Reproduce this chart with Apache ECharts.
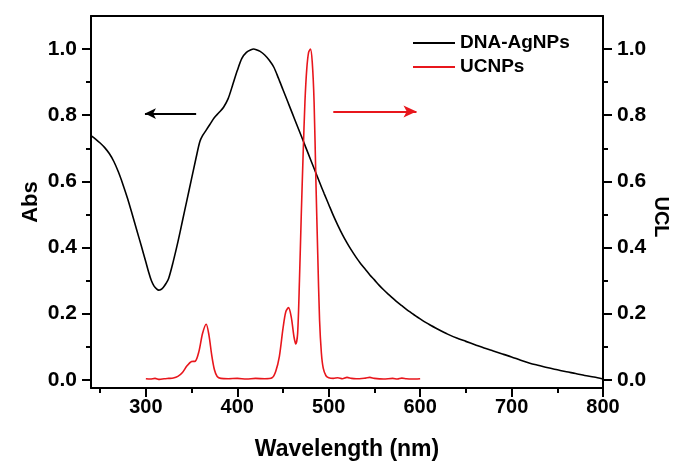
<!DOCTYPE html>
<html>
<head>
<meta charset="utf-8">
<script src="https://cdn.jsdelivr.net/npm/echarts@6/dist/echarts.min.js"></script>
<style>
html,body{margin:0;padding:0;background:#fff;}
#chart{width:676px;height:466px;}
</style>
</head>
<body>
<div id="chart"></div>
<script>
// ---- data ----
const absWavelength = [240,245,250,255,260,265,270,275,280,285,290,295,300,303,306,309,312,314,316,319,322,325,330,335,340,345,350,355,359,362,366,370,375,380,385,390,395,400,405,410,415,418,420,425,430,435,440,445,450,455,460,465,470,475,480,485,490,495,500,505,510,515,520,525,530,535,540,545,550,555,560,565,570,575,580,585,590,595,600,610,620,630,640,650,660,670,680,690,700,710,720,730,740,750,760,770,780,790,800];
const absValues = [0.738,0.728,0.716,0.702,0.684,0.660,0.628,0.590,0.548,0.501,0.453,0.405,0.356,0.326,0.300,0.283,0.274,0.271,0.272,0.279,0.291,0.307,0.358,0.416,0.480,0.544,0.608,0.672,0.720,0.738,0.755,0.772,0.793,0.808,0.824,0.850,0.892,0.935,0.972,0.990,0.998,1.000,0.999,0.993,0.982,0.966,0.945,0.912,0.877,0.842,0.807,0.772,0.737,0.702,0.667,0.632,0.597,0.563,0.530,0.497,0.467,0.439,0.414,0.391,0.370,0.351,0.334,0.317,0.302,0.286,0.272,0.259,0.247,0.235,0.224,0.213,0.203,0.193,0.184,0.167,0.152,0.138,0.126,0.116,0.106,0.096,0.087,0.078,0.069,0.059,0.050,0.043,0.036,0.030,0.024,0.019,0.013,0.008,0.002];

const ucnpWavelength = [300,305,310,315,320,325,330,335,340,345,350,354,358,362,366,369,372,375,378,382,390,400,410,420,430,438,442,446,450,453,456,459,462,464,466,468,470,472,474,476,478,480,482,484,486,488,490,492,494,497,500,505,510,515,520,525,530,540,545,550,560,570,575,580,585,590,600];
const ucnpValues = [0.003,0.002,0.004,0.001,0.003,0.004,0.005,0.010,0.022,0.042,0.055,0.056,0.085,0.140,0.168,0.135,0.075,0.030,0.010,0.004,0.003,0.004,0.002,0.004,0.003,0.006,0.025,0.070,0.155,0.205,0.218,0.190,0.130,0.108,0.140,0.300,0.500,0.680,0.840,0.940,0.990,1.000,0.960,0.840,0.600,0.380,0.180,0.080,0.035,0.012,0.006,0.004,0.006,0.003,0.007,0.004,0.003,0.005,0.007,0.004,0.002,0.004,0.002,0.005,0.003,0.002,0.003];

const xTickValues = [300,400,500,600,700,800];
const yTickValues = [0,0.2,0.4,0.6,0.8,1.0];
const absArrow = [[355,0.805],[299,0.805]];
const ucnpArrow = [[505,0.811],[596,0.811]];

const seriesNames = ['DNA-AgNPs','UCNPs'];
const seriesColors = ['#000000','#e8161c'];

// ---- build chart ----
const FONT = "'Liberation Sans', Arial, sans-serif";
const zip = (xs, ys) => xs.map((x, i) => [x, ys[i]]);

function yAxisCfg(pos) {
  return {
    type: 'value', position: pos, min: -0.025, max: 1.1, splitNumber: 5,
    axisLine: { show: true, onZero: false, lineStyle: { color: '#000', width: 2 } },
    axisTick: { show: true, inside: false, length: 9, customValues: yTickValues, lineStyle: { color: '#000', width: 2 } },
    minorTick: { show: true, splitNumber: 2, length: 5, lineStyle: { color: '#000', width: 2 } },
    axisLabel: { customValues: yTickValues, margin: 14, color: '#000', fontFamily: FONT, fontWeight: 'bold', fontSize: 21,
      formatter: v => v.toFixed(1) },
    splitLine: { show: false }
  };
}

const leftY = yAxisCfg('left');
leftY.name = 'Abs';
leftY.nameLocation = 'middle';
leftY.nameRotate = 90;
leftY.nameGap = 49;
leftY.nameMoveOverlap = false;
leftY.nameTextStyle = { color: '#000', fontFamily: FONT, fontWeight: 'bold', fontSize: 22 };

const rightY = yAxisCfg('right');

const chart = echarts.init(document.getElementById('chart'), null, { renderer: 'canvas' });
chart.setOption({
  animation: false,
  backgroundColor: '#fff',
  grid: { left: 91, right: 73, top: 16, bottom: 78, containLabel: false },
  legend: {
    orient: 'vertical', left: 408, top: 27, itemWidth: 42, itemHeight: 2, itemGap: 2,
    icon: 'rect',
    data: seriesNames,
    textStyle: { color: '#000', fontFamily: FONT, fontWeight: 'bold', fontSize: 19, lineHeight: 22 }
  },
  xAxis: [
    {
      type: 'value', position: 'bottom', min: 240, max: 800, splitNumber: 5,
      name: 'Wavelength (nm)', nameLocation: 'middle', nameGap: 50,
      nameTextStyle: { color: '#000', fontFamily: FONT, fontWeight: 'bold', fontSize: 23 },
      axisLine: { show: true, onZero: false, lineStyle: { color: '#000', width: 2 } },
      axisTick: { show: true, length: 9, customValues: xTickValues, lineStyle: { color: '#000', width: 2 } },
      minorTick: { show: true, splitNumber: 2, length: 5, lineStyle: { color: '#000', width: 2 } },
      axisLabel: { customValues: xTickValues, margin: 9, color: '#000', fontFamily: FONT, fontWeight: 'bold', fontSize: 20 },
      splitLine: { show: false }
    },
    {
      type: 'value', position: 'top', min: 240, max: 800,
      axisLine: { show: true, onZero: false, lineStyle: { color: '#000', width: 2 } },
      axisTick: { show: false }, axisLabel: { show: false }, splitLine: { show: false }
    }
  ],
  yAxis: [leftY, rightY],
  graphic: [{
    type: 'text', x: 661, y: 217, rotation: -Math.PI / 2,
    style: { text: 'UCL', fill: '#000', font: 'bold 20px ' + FONT, textAlign: 'center', textVerticalAlign: 'middle' }
  }],
  series: [
    {
      name: seriesNames[0], type: 'line', xAxisIndex: 0, yAxisIndex: 0,
      data: zip(absWavelength, absValues), showSymbol: false, smooth: 0.3,
      lineStyle: { color: seriesColors[0], width: 1.6 }, itemStyle: { color: seriesColors[0] },
      markLine: {
        silent: true, symbol: ['none', 'arrow'], symbolSize: [8, 11], label: { show: false },
        lineStyle: { color: seriesColors[0], width: 1.8, type: 'solid' },
        data: [[{ coord: absArrow[0] }, { coord: absArrow[1] }]]
      }
    },
    {
      name: seriesNames[1], type: 'line', xAxisIndex: 0, yAxisIndex: 1,
      data: zip(ucnpWavelength, ucnpValues), showSymbol: false, smooth: 0.3,
      lineStyle: { color: seriesColors[1], width: 1.6 }, itemStyle: { color: seriesColors[1] },
      markLine: {
        silent: true, symbol: ['none', 'arrow'], symbolSize: [9, 13], label: { show: false },
        lineStyle: { color: seriesColors[1], width: 1.8, type: 'solid' },
        data: [[{ coord: ucnpArrow[0] }, { coord: ucnpArrow[1] }]]
      }
    }
  ]
});
</script>
</body>
</html>
